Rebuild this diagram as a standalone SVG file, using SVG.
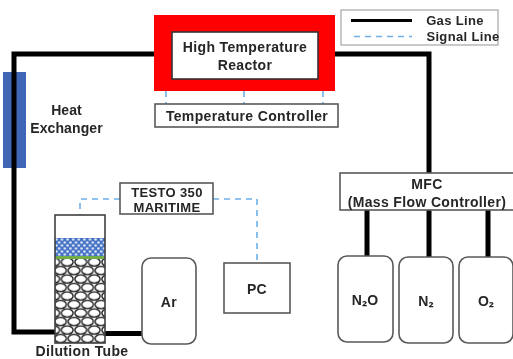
<svg xmlns="http://www.w3.org/2000/svg" width="513" height="359" viewBox="0 0 513 359">
<style>
text{font-family:"Liberation Sans","Noto Sans",sans-serif;font-weight:700;fill:#262626;text-anchor:middle;font-size:14px;letter-spacing:.35px}
.sub{font-family:"Noto Sans CJK KR","Noto Sans",sans-serif}
.box{fill:#fff;stroke:#595959;stroke-width:1.6}
.gas{fill:none;stroke:#000;stroke-width:5}
.sig{fill:none;stroke:#6fb0e8;stroke-width:1.6;stroke-dasharray:6 5}
</style>
<defs>
<filter id="soft" x="-2%" y="-2%" width="104%" height="104%"><feGaussianBlur stdDeviation="0.45"/></filter>
<pattern id="pebbles" x="60.500" y="257.750" width="13.500" height="17" patternUnits="userSpaceOnUse">
<rect width="13.500" height="17" fill="#fff"/>
<g fill="#fff" stroke="#111" stroke-width="1.300">
<ellipse cx="6.750" cy="4.250" rx="5.900" ry="4.100"/>
<ellipse cx="6.750" cy="21.250" rx="5.900" ry="4.100"/>
<ellipse cx="0" cy="12.750" rx="5.900" ry="4.100"/>
<ellipse cx="13.500" cy="12.750" rx="5.900" ry="4.100"/>
<ellipse cx="0" cy="-4.250" rx="5.900" ry="4.100"/>
<ellipse cx="13.500" cy="-4.250" rx="5.900" ry="4.100"/>
</g>
</pattern>
<pattern id="beads" x="55" y="238" width="5.600" height="6" patternUnits="userSpaceOnUse">
<rect width="5.600" height="6" fill="#4472c4"/>
<circle cx="1.400" cy="1.500" r="1.300" fill="#dbe6f7"/>
<circle cx="4.200" cy="4.500" r="1.300" fill="#dbe6f7"/>
</pattern>
</defs>
<rect width="513" height="359" fill="#fff"/>
<g filter="url(#soft)">
<g id="heat-exchanger"><rect x="3" y="72" width="23" height="96" fill="#3f66b5"/><text x="66.500" y="115" style="letter-spacing:.1px">Heat</text><text x="66.500" y="133" style="letter-spacing:.1px">Exchanger</text></g>
<g id="connectors">
<path class="gas" d="M154 54H14V332H55"/>
<path class="gas" d="M105 333.500H142"/>
<path class="gas" d="M335 54H429V173"/>
<path class="gas" d="M367 210V256M429 210V257M488 210V257"/>
<path class="sig" d="M120 199H80V215"/>
<path class="sig" d="M213 199H257V262"/>
<path class="sig" d="M166 91V104M244 91V104M323 91V104" stroke-dasharray="3 2"/>
</g>
<g id="reactor"><rect x="154" y="15" width="181" height="76" fill="#ff0000"/><rect x="172" y="32" width="146" height="47" fill="#fff" stroke="#333" stroke-width="1.600"/><text x="245" y="52">High Temperature</text><text x="245" y="70">Reactor</text></g>
<g id="temperature-controller"><rect class="box" x="155" y="104" width="183" height="23"/><text x="247" y="121">Temperature Controller</text></g>
<g id="legend"><rect x="341" y="10" width="157" height="35" fill="#fff" stroke="#a6a6a6" stroke-width="1.200"/>
<path d="M351 20.500H412" stroke="#000" stroke-width="3" fill="none"/><path class="sig" d="M354 36.500H412"/>
<text x="455" y="25" style="font-size:13px">Gas Line</text><text x="463" y="41" style="font-size:13px">Signal Line</text></g>
<g id="testo"><rect class="box" x="120" y="183" width="93" height="31"/><text x="167" y="196.500" style="font-size:13px">TESTO 350</text><text x="167" y="212" style="font-size:13px">MARITIME</text></g>
<g id="dilution-tube"><rect x="55" y="215" width="50" height="128" fill="#fff"/><rect x="55" y="238" width="50" height="18" fill="url(#beads)"/><rect x="55" y="256" width="50" height="3" fill="#70ad47"/><rect x="55" y="259" width="50" height="84" fill="url(#pebbles)"/><rect x="55" y="215" width="50" height="128" fill="none" stroke="#404040" stroke-width="1.600"/><text x="82" y="356">Dilution Tube</text></g>
<g id="ar"><rect class="box" x="142" y="258" width="54" height="86" rx="9"/><text x="169" y="307">Ar</text></g>
<g id="pc"><rect class="box" x="224" y="263" width="66" height="50"/><text x="257" y="294">PC</text></g>
<g id="mfc"><rect class="box" x="340" y="173" width="174" height="37"/><text x="427" y="189">MFC</text><text x="427" y="207">(Mass Flow Controller)</text></g>
<g id="n2o"><rect class="box" x="338" y="256" width="55" height="86" rx="9"/><text x="365" y="305" style="letter-spacing:0">N<tspan class="sub">₂</tspan>O</text></g>
<g id="n2"><rect class="box" x="399" y="257" width="54" height="86" rx="9"/><text x="426" y="306" style="letter-spacing:0">N<tspan class="sub">₂</tspan></text></g>
<g id="o2"><rect class="box" x="459" y="257" width="54" height="86" rx="9"/><text x="486" y="306" style="letter-spacing:0">O<tspan class="sub">₂</tspan></text></g>
</g>
</svg>
